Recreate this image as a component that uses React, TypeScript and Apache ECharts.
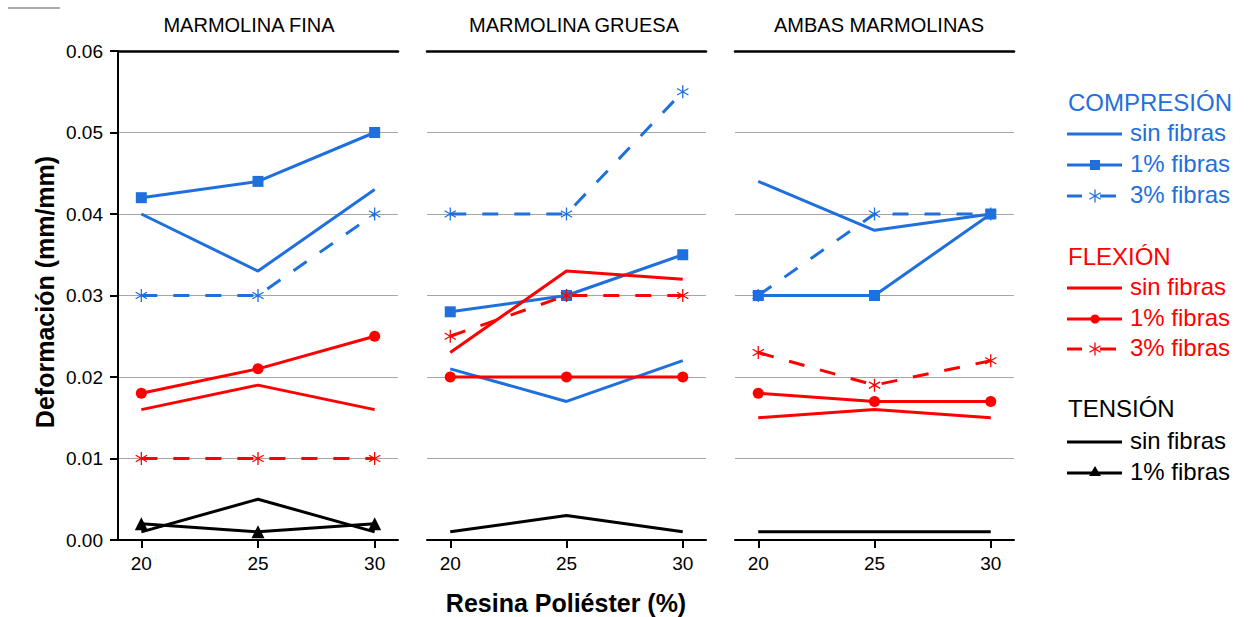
import React, { useEffect, useRef } from 'react';
import * as echarts from 'echarts';

const resina = [20, 25, 30];
const xTicks = [20, 25, 30];
const panelTitles = ['MARMOLINA FINA', 'MARMOLINA GRUESA', 'AMBAS MARMOLINAS'];
const yTicks = [0, 0.01, 0.02, 0.03, 0.04, 0.05, 0.06];

// per panel: [FINA, GRUESA, AMBAS]
const compSinFibras = [[0.040, 0.033, 0.043], [0.021, 0.017, 0.022], [0.044, 0.038, 0.040]];
const comp1Fibras = [[0.042, 0.044, 0.050], [0.028, 0.030, 0.035], [0.030, 0.030, 0.040]];
const comp3Fibras = [[0.030, 0.030, 0.040], [0.040, 0.040, 0.055], [0.030, 0.040, 0.040]];
const flexSinFibras = [[0.016, 0.019, 0.016], [0.023, 0.033, 0.032], [0.015, 0.016, 0.015]];
const flex1Fibras = [[0.018, 0.021, 0.025], [0.020, 0.020, 0.020], [0.018, 0.017, 0.017]];
const flex3Fibras = [[0.010, 0.010, 0.010], [0.025, 0.030, 0.030], [0.023, 0.019, 0.022]];
const tensSinFibras = [[0.001, 0.005, 0.001], [0.001, 0.003, 0.001], [0.001, 0.001, 0.001]];
const tens1Fibras: (number[] | null)[] = [[0.002, 0.001, 0.002], null, null];

const BLUE = '#1f70dc';
const RED = '#ff0000';
const BLACK = '#000000';
const FONT = 'Liberation Sans, Arial, sans-serif';
const STAR = 'path://M10 0 L10 20 M1.34 5 L18.66 15 M1.34 15 L18.66 5';

const grids = [
  { left: 118, top: 51, width: 280, height: 489 },
  { left: 427, top: 51, width: 279, height: 489 },
  { left: 735, top: 51, width: 279, height: 489 },
];
const titleX = [249, 574, 879];

type Kind = 'sin' | 'uno' | 'tres';

function mk(name: string, vals: number[], gi: number, color: string, kind: Kind, sym?: string) {
  const s: any = {
    type: 'line',
    name,
    xAxisIndex: gi,
    yAxisIndex: gi,
    data: resina.map((x, i) => [x, vals[i]]),
    lineStyle: { color, width: 3, type: kind === 'tres' ? [16, 16] : 'solid' },
    itemStyle: { color, borderColor: color, borderWidth: kind === 'tres' ? 1.3 : 0 },
    symbol: 'none',
    showSymbol: kind !== 'sin',
    emphasis: { disabled: true },
  };
  if (kind === 'uno') {
    s.symbol = sym;
    s.symbolSize = sym === 'triangle' ? 13 : 11;
  } else if (kind === 'tres') {
    s.symbol = STAR;
    s.symbolSize = 13;
    s.symbolKeepAspect = true;
  }
  return s;
}

function legendGraphics() {
  const els: any[] = [];
  const x0 = 1067, x1 = 1122, mx = 1095, tx = 1130;
  const head = (text: string, y: number, color: string) =>
    els.push({ type: 'text', left: 1068, top: y - 14, style: { text, fill: color, font: `24px ${FONT}` } });
  const label = (text: string, y: number, color: string) =>
    els.push({ type: 'text', left: tx, top: y - 14, style: { text, fill: color, font: `24px ${FONT}` } });
  const line = (y: number, color: string, a = x0, b = x1) =>
    els.push({ type: 'line', shape: { x1: a, y1: y, x2: b, y2: y }, style: { stroke: color, lineWidth: 3 } });
  const star = (y: number, color: string) => {
    const r = 6.5, dx = 5.6, dy = 3.25;
    els.push({ type: 'line', shape: { x1: mx, y1: y - r, x2: mx, y2: y + r }, style: { stroke: color, lineWidth: 1.3 } });
    els.push({ type: 'line', shape: { x1: mx - dx, y1: y - dy, x2: mx + dx, y2: y + dy }, style: { stroke: color, lineWidth: 1.3 } });
    els.push({ type: 'line', shape: { x1: mx - dx, y1: y + dy, x2: mx + dx, y2: y - dy }, style: { stroke: color, lineWidth: 1.3 } });
  };
  // COMPRESIÓN
  head('COMPRESIÓN', 104, BLUE);
  line(134, BLUE); label('sin fibras', 134, BLUE);
  line(165, BLUE); els.push({ type: 'rect', shape: { x: mx - 5, y: 160, width: 10, height: 10 }, style: { fill: BLUE } });
  label('1% fibras', 165, BLUE);
  line(196, BLUE, x0, 1082); star(196, BLUE); line(196, BLUE, 1100, 1116); label('3% fibras', 196, BLUE);
  // FLEXIÓN
  head('FLEXIÓN', 258, RED);
  line(288, RED); label('sin fibras', 288, RED);
  line(319, RED); els.push({ type: 'circle', shape: { cx: mx, cy: 319, r: 4.5 }, style: { fill: RED } });
  label('1% fibras', 319, RED);
  line(349, RED, x0, 1082); star(349, RED); line(349, RED, 1100, 1116); label('3% fibras', 349, RED);
  // TENSIÓN
  head('TENSIÓN', 410, BLACK);
  line(442, BLACK); label('sin fibras', 442, BLACK);
  line(473, BLACK);
  els.push({ type: 'polygon', shape: { points: [[mx, 466], [mx - 6, 476], [mx + 6, 476]] }, style: { fill: BLACK } });
  label('1% fibras', 473, BLACK);
  return els;
}

export default function App() {
  const ref = useRef<HTMLDivElement>(null);
  useEffect(() => {
    document.body.style.margin = '0';
    if (!ref.current) return;
    const chart = echarts.init(ref.current, undefined, { renderer: 'svg' });

    const xAxis: any[] = [];
    const yAxis: any[] = [];
    grids.forEach((_, i) => {
      xAxis.push({
        type: 'value', gridIndex: i, min: 19, max: 31, position: 'bottom',
        axisLine: { show: true, lineStyle: { color: BLACK, width: 2 } },
        axisTick: { show: true, customValues: xTicks, length: 8, lineStyle: { color: BLACK, width: 2 } },
        axisLabel: { show: true, customValues: xTicks, fontSize: 19, color: BLACK, fontFamily: FONT, margin: 14 },
        splitLine: { show: false },
      });
    });
    grids.forEach((_, i) => {
      xAxis.push({
        type: 'value', gridIndex: i, min: 19, max: 31, position: 'top',
        axisLine: { show: true, lineStyle: { color: BLACK, width: 2.5 } },
        axisTick: { show: false }, axisLabel: { show: false }, splitLine: { show: false },
      });
    });
    grids.forEach((_, i) => {
      yAxis.push({
        type: 'value', gridIndex: i, min: yTicks[0], max: yTicks[yTicks.length - 1], interval: 0.01,
        axisLine: { show: i === 0, lineStyle: { color: BLACK, width: 2 } },
        axisTick: { show: i === 0, length: 8, lineStyle: { color: BLACK, width: 2 } },
        axisLabel: {
          show: i === 0, fontSize: 19, color: BLACK, fontFamily: FONT, margin: 15,
          formatter: (v: number) => v.toFixed(2),
        },
        splitLine: { show: true, lineStyle: { color: '#a6a6a6', width: 1.2 } },
      });
    });

    const series: any[] = [];
    grids.forEach((_, i) => {
      series.push(mk('Compresión sin fibras', compSinFibras[i], i, BLUE, 'sin'));
      series.push(mk('Compresión 1% fibras', comp1Fibras[i], i, BLUE, 'uno', 'rect'));
      series.push(mk('Compresión 3% fibras', comp3Fibras[i], i, BLUE, 'tres'));
      series.push(mk('Flexión sin fibras', flexSinFibras[i], i, RED, 'sin'));
      series.push(mk('Flexión 1% fibras', flex1Fibras[i], i, RED, 'uno', 'circle'));
      series.push(mk('Flexión 3% fibras', flex3Fibras[i], i, RED, 'tres'));
      series.push(mk('Tensión sin fibras', tensSinFibras[i], i, BLACK, 'sin'));
      const t1 = tens1Fibras[i];
      if (t1) series.push(mk('Tensión 1% fibras', t1, i, BLACK, 'uno', 'triangle'));
    });

    const graphic: any[] = [
      { type: 'line', shape: { x1: 8, y1: 8, x2: 60, y2: 8 }, style: { stroke: '#aaaaaa', lineWidth: 2 } },
      ...panelTitles.map((t, i) => ({
        type: 'text', x: titleX[i], y: 25,
        style: { text: t, fill: BLACK, font: `20px ${FONT}`, align: 'center', verticalAlign: 'middle' },
      })),
      {
        type: 'text', x: 45, y: 292, rotation: Math.PI / 2,
        style: { text: 'Deformación (mm/mm)', fill: BLACK, font: `bold 25px ${FONT}`, align: 'center', verticalAlign: 'middle' },
      },
      {
        type: 'text', x: 566, y: 603,
        style: { text: 'Resina Poliéster (%)', fill: BLACK, font: `bold 25px ${FONT}`, align: 'center', verticalAlign: 'middle' },
      },
      ...legendGraphics(),
    ];

    chart.setOption({
      animation: false,
      backgroundColor: '#ffffff',
      grid: grids,
      xAxis,
      yAxis,
      series,
      graphic,
    });
    return () => chart.dispose();
  }, []);
  return <div ref={ref} style={{ width: 1249, height: 617 }} />;
}
